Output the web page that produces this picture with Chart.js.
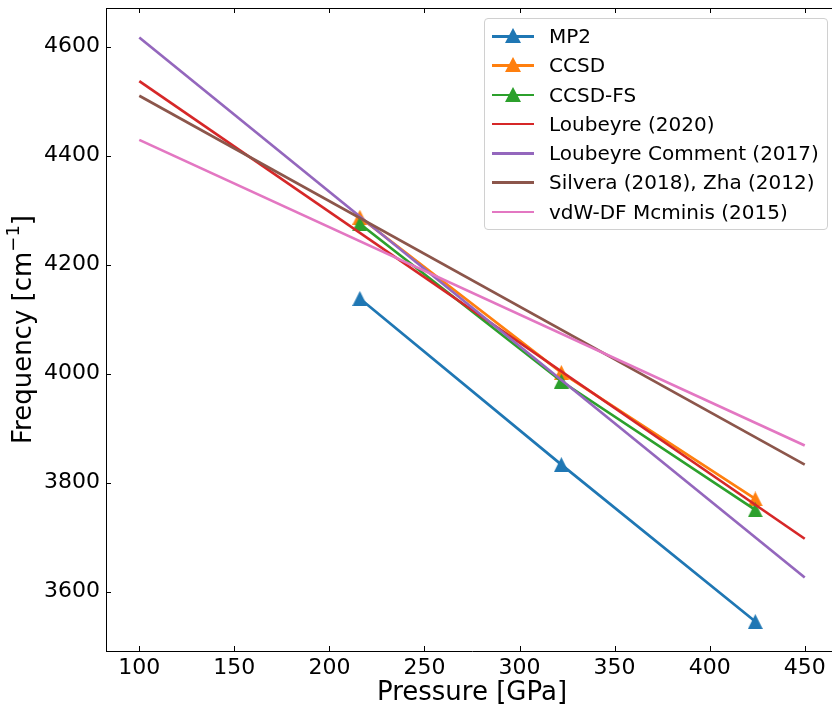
<!DOCTYPE html>
<html>
<head>
<meta charset="utf-8">
<script src="https://cdn.jsdelivr.net/npm/chart.js@4.4.0/dist/chart.umd.min.js"></script>
<style>
  html, body { margin: 0; padding: 0; background: #fff; overflow: hidden; }
  #wrap { position: relative; width: 838px; height: 706px; }
  #legend {
    position: absolute; left: 484px; top: 18px; width: 344px; height: 212px;
    border: 1px solid #d0d0d0; border-radius: 4px; background: rgba(255,255,255,0.85);
    font-family: 'DejaVu Sans', sans-serif; font-size: 20px; color: #000;
    box-sizing: border-box; padding-top: 3px;
  }
  .row { position: relative; height: 29.3px; }
  .row .ln { position: absolute; left: 7px; top: 13px; width: 42px; height: 2.6px; }
  .row .mk { position: absolute; left: 20px; top: 6px; width: 0; height: 0;
    border-left: 8px solid transparent; border-right: 8px solid transparent; border-bottom: 15px solid; }
  .row .tx { position: absolute; left: 64px; top: 2px; white-space: nowrap; }
</style>
</head>
<body>
<div id="wrap">
  <canvas id="chart" width="838" height="706"></canvas>
  <div id="legend"></div>
</div>
<script>
// calculated vibron frequencies (three pressures)
const calcPressure = [216, 322, 424];
const mp2 = [4138, 3833, 3545];
const ccsd = [4287, 4002, 3770];
const ccsdFs = [4275, 3986, 3750];

// experimental / reference fits, drawn between the two end pressures
const fitPressure = [100, 450];
const loubeyre2020 = [4537, 3697];
const loubeyreComment = [4617, 3626];
const silveraZha = [4510, 3833];
const vdwMcminis = [4429, 3868];

const xTicks = [100, 150, 200, 250, 300, 350, 400, 450];
const yTicks = [3600, 3800, 4000, 4200, 4400, 4600];

const FONT = 'DejaVu Sans';

// matplotlib-style '^' marker (width == height)
function triangle(color, size) {
  const c = document.createElement('canvas');
  c.width = size; c.height = size;
  const g = c.getContext('2d');
  g.fillStyle = color;
  g.beginPath();
  g.moveTo(size / 2, 0);
  g.lineTo(size, size);
  g.lineTo(0, size);
  g.closePath();
  g.fill();
  return c;
}

function pts(xs, ys) {
  return xs.map((x, i) => ({ x: x, y: ys[i] }));
}

const series = [
  { label: 'MP2', color: '#1f77b4', x: calcPressure, y: mp2, marker: true },
  { label: 'CCSD', color: '#ff7f0e', x: calcPressure, y: ccsd, marker: true },
  { label: 'CCSD-FS', color: '#2ca02c', x: calcPressure, y: ccsdFs, marker: true },
  { label: 'Loubeyre (2020)', color: '#d62728', x: fitPressure, y: loubeyre2020 },
  { label: 'Loubeyre Comment (2017)', color: '#9467bd', x: fitPressure, y: loubeyreComment },
  { label: 'Silvera (2018), Zha (2012)', color: '#8c564b', x: fitPressure, y: silveraZha },
  { label: 'vdW-DF Mcminis (2015)', color: '#e377c2', x: fitPressure, y: vdwMcminis }
];

const datasets = series.map((s, i) => ({
  label: s.label,
  data: pts(s.x, s.y),
  borderColor: s.color,
  backgroundColor: s.color,
  borderWidth: 2.7,
  pointStyle: s.marker ? triangle(s.color, 15) : false,
  pointRadius: s.marker ? 8 : 0,
  showLine: true,
  fill: false,
  tension: 0,
  order: 20 - i
}));

function noPad(s) {
  s.paddingTop = 0; s.paddingBottom = 0; s.paddingLeft = 0; s.paddingRight = 0;
}

// inward ticks on left, bottom and top, top spine, y title with superscript
const frame = {
  id: 'frame',
  afterDatasetsDraw(chart) {
    const { ctx, chartArea: a, scales: { x, y } } = chart;
    const len = 5;
    ctx.save();
    ctx.strokeStyle = '#000';
    ctx.lineWidth = 1;
    ctx.beginPath();
    ctx.moveTo(a.left, a.top + 0.5);
    ctx.lineTo(a.right, a.top + 0.5);
    xTicks.forEach(v => {
      const px = Math.round(x.getPixelForValue(v)) + 0.5;
      ctx.moveTo(px, a.bottom); ctx.lineTo(px, a.bottom - len);
      ctx.moveTo(px, a.top); ctx.lineTo(px, a.top + len);
    });
    yTicks.forEach(v => {
      const py = Math.round(y.getPixelForValue(v)) + 0.5;
      ctx.moveTo(a.left, py); ctx.lineTo(a.left + len, py);
    });
    ctx.stroke();

    // Frequency [cm^-1], rotated
    const big = '26px ' + FONT, small = '18px ' + FONT;
    const parts = [['Frequency [cm', big, 0], ['\u22121', small, -10], [']', big, 0]];
    let total = 0;
    parts.forEach(p => { ctx.font = p[1]; total += ctx.measureText(p[0]).width; });
    ctx.translate(24, (a.top + a.bottom) / 2);
    ctx.rotate(-Math.PI / 2);
    ctx.fillStyle = '#000';
    ctx.textBaseline = 'middle';
    ctx.textAlign = 'left';
    let cx = -total / 2;
    parts.forEach(p => {
      ctx.font = p[1];
      ctx.fillText(p[0], cx, p[2]);
      cx += ctx.measureText(p[0]).width;
    });
    ctx.restore();
  }
};

const chart = new Chart(document.getElementById('chart'), {
  type: 'scatter',
  data: { datasets: datasets },
  options: {
    responsive: false,
    animation: false,
    layout: { autoPadding: false, padding: { top: 8, right: 0, left: 0, bottom: 0 } },
    plugins: { legend: { display: false }, tooltip: { enabled: false } },
    scales: {
      x: {
        type: 'linear',
        min: 82.5,
        max: 467.5,
        afterBuildTicks: s => { s.ticks = xTicks.map(v => ({ value: v })); },
        afterFit: s => { s.height = 55; noPad(s); },
        grid: { display: false, drawTicks: false },
        border: { display: true, color: '#000', width: 1 },
        ticks: { padding: 4, color: '#000', font: { family: FONT, size: 22 },
                 callback: v => String(v) },
        title: { display: true, text: 'Pressure [GPa]', color: '#000',
                 font: { family: FONT, size: 26 }, padding: { top: 0, bottom: -3 } }
      },
      y: {
        type: 'linear',
        min: 3491,
        max: 4671,
        afterBuildTicks: s => { s.ticks = yTicks.map(v => ({ value: v })); },
        afterFit: s => { s.width = 106; noPad(s); },
        grid: { display: false, drawTicks: false },
        border: { display: true, color: '#000', width: 1 },
        ticks: { padding: 6, color: '#000', font: { family: FONT, size: 22 },
                 callback: v => String(v) },
        title: { display: false }
      }
    }
  },
  plugins: [frame]
});

// legend built from the datasets
const legend = document.getElementById('legend');
series.forEach(s => {
  const row = document.createElement('div');
  row.className = 'row';
  const ln = document.createElement('div');
  ln.className = 'ln';
  ln.style.background = s.color;
  row.appendChild(ln);
  if (s.marker) {
    const mk = document.createElement('div');
    mk.className = 'mk';
    mk.style.borderBottomColor = s.color;
    row.appendChild(mk);
  }
  const tx = document.createElement('div');
  tx.className = 'tx';
  tx.textContent = s.label;
  row.appendChild(tx);
  legend.appendChild(row);
});
</script>
</body>
</html>
